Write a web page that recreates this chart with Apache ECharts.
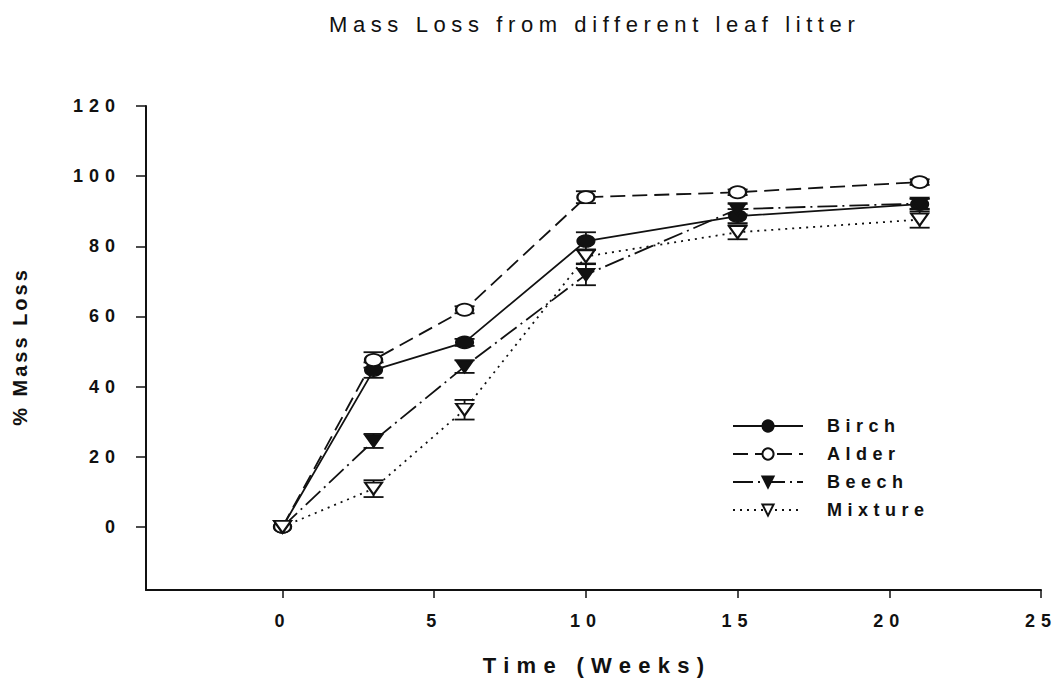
<!DOCTYPE html>
<html>
<head>
<meta charset="utf-8">
<script src="https://cdn.jsdelivr.net/npm/echarts@6/dist/echarts.min.js"></script>
<style>
  html, body { margin: 0; padding: 0; background: #fff; }
  #chart { width: 1058px; height: 685px; }
</style>
</head>
<body>
<div id="chart"></div>
<script>
// Sampling times (weeks) and mean % mass loss per litter type
const weeks = [0, 3, 6, 10, 15, 21];
const birch = [0, 44.7, 52.6, 81.5, 88.6, 92.0];
const alder = [0, 47.6, 61.9, 94.0, 95.4, 98.3];
const beech = [0, 24.5, 45.7, 71.9, 90.6, 92.2];
const mixture = [0, 10.9, 33.4, 77.1, 84.0, 87.6];

// Error bar half-widths (same order as above)
const birchErr = [0, 2.2, 1.0, 2.5, 2.0, 1.5];
const alderErr = [0, 2.2, 1.0, 1.7, 0.8, 0.8];
const beechErr = [0, 2.0, 1.8, 3.0, 1.5, 1.5];
const mixtureErr = [0, 2.4, 2.8, 2.0, 2.0, 2.3];

const seriesNames = ['Birch', 'Alder', 'Beech', 'Mixture'];
const xTicks = [0, 5, 10, 15, 20, 25];
const yTicks = [0, 20, 40, 60, 80, 100, 120];

const TITLE = 'Mass Loss from different leaf litter';
const X_NAME = 'Time (Weeks)';
const Y_NAME = '% Mass Loss';

const FONT = "'Liberation Sans', Arial, Helvetica, sans-serif";
const INK = '#111';

function pairs(values) {
  return weeks.map((w, i) => [w, values[i]]);
}

// rows of [week, low, high] for every series
const errorRows = [];
[[birch, birchErr], [alder, alderErr], [beech, beechErr], [mixture, mixtureErr]].forEach(([v, e]) => {
  weeks.forEach((w, i) => {
    if (e[i] > 0) errorRows.push([w, v[i] - e[i], v[i] + e[i]]);
  });
});

const symSize = [17, 12];

function lineSeries(name, values, symbol, dash, rotate) {
  return {
    name: name,
    type: 'line',
    data: pairs(values),
    symbol: symbol,
    symbolSize: symSize,
    symbolRotate: rotate || 0,
    showAllSymbol: true,
    z: 3,
    lineStyle: { color: INK, width: 1.8, type: dash },
    itemStyle: { color: INK, borderColor: INK, borderWidth: 1.8 },
    emphasis: { disabled: true }
  };
}

const chart = echarts.init(document.getElementById('chart'), null, { renderer: 'svg' });

chart.setOption({
  animation: false,
  backgroundColor: '#fff',
  title: {
    text: TITLE,
    left: 324,
    top: 8,
    textStyle: { fontFamily: FONT, fontSize: 22, fontWeight: 'normal', color: INK }
  },
  grid: { left: 146, right: 17, top: 106, bottom: 95 },
  legend: {
    orient: 'vertical',
    left: 727,
    top: 412,
    itemWidth: 70,
    itemHeight: 14,
    itemGap: 10,
    data: seriesNames,
    textStyle: { fontFamily: FONT, fontSize: 18, fontWeight: 'bold', color: INK, padding: [0, 0, 0, 19] }
  },
  xAxis: {
    type: 'value',
    min: -4.5,
    max: 25,
    name: X_NAME,
    nameLocation: 'middle',
    nameGap: 64,
    nameTextStyle: { fontFamily: FONT, fontSize: 22, fontWeight: 'bold', color: INK },
    splitLine: { show: false },
    axisLine: { onZero: false, lineStyle: { color: INK, width: 2 } },
    axisTick: { customValues: xTicks, length: 8, lineStyle: { color: INK, width: 1.5 } },
    axisLabel: {
      customValues: xTicks,
      margin: 22,
      fontFamily: FONT, fontSize: 18, fontWeight: 'bold', color: INK
    }
  },
  yAxis: {
    type: 'value',
    min: -18,
    max: 120,
    name: Y_NAME,
    nameLocation: 'middle',
    nameGap: 116,
    nameTextStyle: { fontFamily: FONT, fontSize: 20, fontWeight: 'bold', color: INK },
    splitLine: { show: false },
    axisLine: { onZero: false, lineStyle: { color: INK, width: 2 } },
    axisTick: { customValues: yTicks, length: 10, lineStyle: { color: INK, width: 1.5 } },
    axisLabel: {
      customValues: yTicks,
      margin: 31,
      fontFamily: FONT, fontSize: 18, fontWeight: 'bold', color: INK
    }
  },
  series: [
    {
      type: 'custom',
      name: 'error bars',
      z: 2,
      silent: true,
      data: errorRows,
      renderItem: function (params, api) {
        const x = api.value(0);
        const lo = api.coord([x, api.value(1)]);
        const hi = api.coord([x, api.value(2)]);
        const half = 10;
        const style = { stroke: INK, lineWidth: 1.8 };
        return {
          type: 'group',
          children: [
            { type: 'line', shape: { x1: lo[0], y1: lo[1], x2: hi[0], y2: hi[1] }, style: style },
            { type: 'line', shape: { x1: lo[0] - half, y1: lo[1], x2: lo[0] + half, y2: lo[1] }, style: style },
            { type: 'line', shape: { x1: hi[0] - half, y1: hi[1], x2: hi[0] + half, y2: hi[1] }, style: style }
          ]
        };
      }
    },
    lineSeries('Birch', birch, 'circle', 'solid'),
    lineSeries('Alder', alder, 'emptyCircle', [15, 7]),
    lineSeries('Beech', beech, 'triangle', [20, 5, 2, 5], 180),
    lineSeries('Mixture', mixture, 'emptyTriangle', [2, 5], 180)
  ]
});

// Wide letter spacing for the labels (px per character)
function spacingFor(s) {
  if (s === TITLE) return 5.6;
  if (s === X_NAME) return 7.3;
  if (s === Y_NAME) return 3;
  if (seriesNames.indexOf(s) >= 0) return 5.5;
  return 6;
}

function isTickNumber(s) {
  return /^-?\d+$/.test(s);
}

function spaceLetters() {
  document.querySelectorAll('#chart text').forEach(t => {
    const s = t.textContent;
    const sp = spacingFor(s);
    t.style.letterSpacing = sp + 'px';
    const anchor = t.getAttribute('text-anchor');
    let shift = 0;
    if (anchor === 'end') shift = sp;
    else if (anchor === 'middle' && !isTickNumber(s)) shift = sp / 2;
    t.setAttribute('dx', shift);
  });
}
chart.on('finished', spaceLetters);
spaceLetters();
</script>
</body>
</html>
